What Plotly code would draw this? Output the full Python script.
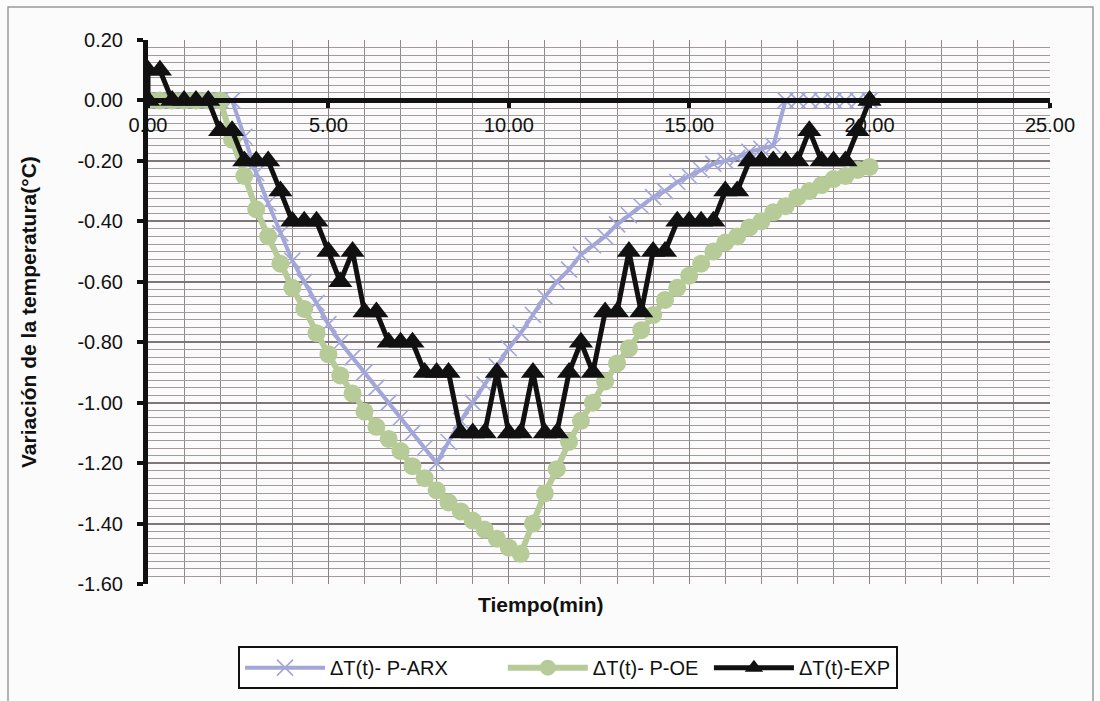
import plotly.graph_objects as go

# Time (min), sampled every 20 s
t = [0, 0.33, 0.67, 1.0, 1.33, 1.67, 2.0, 2.33, 2.67, 3.0, 3.33, 3.67, 4.0, 4.33, 4.67,
     5.0, 5.33, 5.67, 6.0, 6.33, 6.67, 7.0, 7.33, 7.67, 8.0, 8.33, 8.67, 9.0, 9.33, 9.67,
     10.0, 10.33, 10.67, 11.0, 11.33, 11.67, 12.0, 12.33, 12.67, 13.0, 13.33, 13.67, 14.0,
     14.33, 14.67, 15.0, 15.33, 15.67, 16.0, 16.33, 16.67, 17.0, 17.33, 17.67, 18.0, 18.33,
     18.67, 19.0, 19.33, 19.67, 20.0]

arx = [0, 0, 0, 0, 0, 0, 0, 0,
       -0.12, -0.24, -0.34, -0.44, -0.53, -0.60, -0.67, -0.74, -0.80, -0.85, -0.90, -0.95,
       -1.00, -1.05, -1.10, -1.15, -1.20, -1.13, -1.06, -1.00, -0.94, -0.88, -0.82, -0.77,
       -0.71, -0.65, -0.60, -0.56, -0.51, -0.48, -0.45, -0.41, -0.38, -0.35, -0.32, -0.30,
       -0.27, -0.25, -0.23, -0.21, -0.20, -0.19, -0.17, -0.16, -0.15,
       0, 0, 0, 0, 0, 0, 0, 0]

oe = [0, 0, 0, 0, 0, 0, 0,
      -0.13, -0.25, -0.36, -0.45, -0.54, -0.62, -0.69, -0.77, -0.84, -0.91, -0.97, -1.03,
      -1.08, -1.12, -1.16, -1.21, -1.25, -1.29, -1.33, -1.36, -1.39, -1.42, -1.45, -1.48,
      -1.50, -1.40, -1.30, -1.22, -1.13, -1.06, -1.00, -0.93, -0.87, -0.82, -0.76, -0.71,
      -0.66, -0.62, -0.58, -0.54, -0.50, -0.47, -0.45, -0.42, -0.40, -0.37, -0.35, -0.32,
      -0.30, -0.28, -0.26, -0.25, -0.23, -0.22]

t_exp = [0] + t
exp = [0.0, 0.1, 0.1, 0.0, 0.0, 0.0, 0.0, -0.1, -0.1, -0.2, -0.2, -0.2, -0.3, -0.4, -0.4,
       -0.4, -0.5, -0.6, -0.5, -0.7, -0.7, -0.8, -0.8, -0.8, -0.9, -0.9, -0.9, -1.1, -1.1,
       -1.1, -0.9, -1.1, -1.1, -0.9, -1.1, -1.1, -0.9, -0.8, -0.9, -0.7, -0.7, -0.5, -0.7,
       -0.5, -0.5, -0.4, -0.4, -0.4, -0.4, -0.3, -0.3, -0.2, -0.2, -0.2, -0.2, -0.2, -0.1,
       -0.2, -0.2, -0.2, -0.1, 0.0]

x_ticks = [0, 5, 10, 15, 20, 25]
y_ticks = [0.2, 0.0, -0.2, -0.4, -0.6, -0.8, -1.0, -1.2, -1.4, -1.6]

FONT = "Liberation Sans, Arial, sans-serif"
NB = "\u00a0"

fig = go.Figure()
fig.add_trace(go.Scatter(
    x=t, y=arx, name="ΔT(t)- P-ARX" + NB * 9, mode="lines+markers",
    line=dict(color="#a3a6d8", width=4),
    marker=dict(symbol="x-thin", size=16, line=dict(color="#a3a6d8", width=1.6)),
))
fig.add_trace(go.Scatter(
    x=t, y=oe, name="ΔT(t)- P-OE" + NB * 1, mode="lines+markers",
    line=dict(color="#b7cb98", width=6),
    marker=dict(symbol="circle", size=18, color="#b7cb98"),
))
fig.add_trace(go.Scatter(
    x=t_exp, y=exp, name="ΔT(t)-EXP", mode="lines+markers",
    line=dict(color="#111111", width=5),
    marker=dict(symbol="triangle-up", size=21, color="#111111"),
))

ypos = (0 - (-1.6)) / (0.2 - (-1.6))

fig.update_layout(
    width=1100, height=701,
    margin=dict(l=148, r=50, t=40, b=115),
    paper_bgcolor="#fbfbfb", plot_bgcolor="#fbfbfb",
    font=dict(family=FONT, size=20, color="#111111"),
    showlegend=True,
    legend=dict(orientation="h", x=(238 - 148) / 902, xanchor="left", y=-0.1538, yanchor="middle",
                bgcolor="#ffffff", bordercolor="#111111", borderwidth=2,
                font=dict(size=20, family=FONT), itemwidth=80, traceorder="normal"),
    xaxis=dict(
        range=[0, 25], anchor="free", position=ypos,
        tickmode="array", tickvals=x_ticks, ticktext=[f"{v:.2f}" for v in x_ticks],
        ticks="outside", ticklen=5, tickwidth=4, tickcolor="#111111",
        showline=True, linecolor="#111111", linewidth=5,
        showgrid=True, gridcolor="#8a8181", gridwidth=1.4,
        minor=dict(dtick=1, tick0=0, showgrid=True, gridcolor="#928a8a", gridwidth=1.3),
        zeroline=False, tickfont=dict(size=20, family=FONT),
    ),
    yaxis=dict(
        range=[-1.6, 0.2],
        tickmode="array", tickvals=y_ticks, ticktext=[f"{v:.2f}" for v in y_ticks],
        ticks="outside", ticklen=6, tickwidth=4, tickcolor="#111111",
        showline=True, linecolor="#111111", linewidth=5,
        showgrid=True, gridcolor="#7f7777", gridwidth=1.6,
        minor=dict(dtick=0.025, tick0=0, showgrid=True, gridcolor="#a39b9b", gridwidth=1),
        zeroline=False, tickfont=dict(size=20, family=FONT), ticklabelstandoff=10,
    ),
    annotations=[
        dict(text="<b>Tiempo(min)</b>", x=(541 - 148) / 902, y=-0.037, xref="paper", yref="paper",
             xanchor="center", yanchor="middle", showarrow=False,
             font=dict(size=21, family=FONT)),
        dict(text="<b>Variación de la temperatura(°C)</b>", x=(28 - 148) / 902, y=0.5,
             xref="paper", yref="paper", textangle=-90, xanchor="center", yanchor="middle",
             showarrow=False, font=dict(size=21, family=FONT)),
    ],
    shapes=[dict(type="rect", xref="paper", yref="paper",
                 x0=-140/902, x1=1+43/902, y0=-125/546, y1=1+33/546,
                 line=dict(color="#9a9a9a", width=1.5), layer="below")],
)

fig.write_html("out.html")
